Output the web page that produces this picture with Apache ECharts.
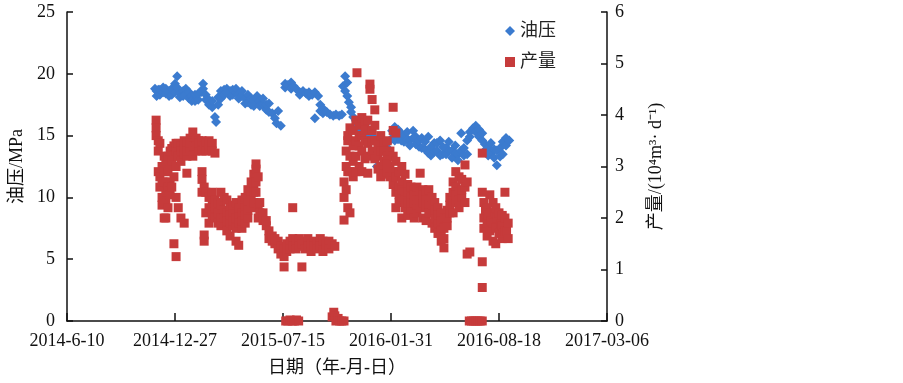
<!DOCTYPE html>
<html>
<head>
<meta charset="utf-8">
<script src="https://cdn.jsdelivr.net/npm/echarts@6/dist/echarts.min.js"></script>
<style>
  html, body { margin: 0; padding: 0; background: #fff; }
  #chart { width: 903px; height: 383px; }
</style>
</head>
<body>
<div id="chart"></div>
<script>
// x values are days counted from startDate (2014-06-10)
const startDate = '2014-06-10';
const xTickLabels = ['2014-6-10', '2014-12-27', '2015-07-15', '2016-01-31', '2016-08-18', '2017-03-06'];
const pressureTicks = [0, 5, 10, 15, 20, 25];
const rateTicks = [0, 1, 2, 3, 4, 5, 6];

// 油压 (MPa)
const pressure = [
  [163,18.8],[166,18.6],[166,18.2],[169,18.7],[172,18.3],[172,18.7],[178,18.5],[178,18.9],[183,18.4],[183,18.8],
  [189,18.6],[189,18.2],[194,18.3],[194,18.8],[200,18.5],[200,19.2],[204,19.8],[204,18.9],[209,18.4],[209,18.1],
  [215,18.6],[215,18.2],[220,18.8],[220,18.3],[226,18.0],[226,18.5],[231,18.2],[231,17.8],[237,17.8],[237,18.3],
  [243,17.9],[243,18.4],[248,18.5],[252,19.2],[252,18.8],[257,18.3],[257,17.9],[263,17.9],[263,17.5],
  [269,17.3],[269,17.8],[274,16.5],[276,16.1],[280,17.5],[280,18.1],[285,18.0],[285,18.6],[291,18.7],[291,18.3],
  [296,18.5],[296,18.8],[302,18.6],[302,18.2],[307,18.3],[307,18.7],[313,18.5],[313,18.8],[318,18.4],[318,18.0],
  [324,18.6],[324,18.2],[330,18.0],[330,17.6],[335,17.7],[335,18.3],[341,17.5],[341,18.0],[346,17.9],[346,17.4],
  [352,18.2],[352,17.8],[357,17.8],[357,17.4],[363,17.5],[363,18.0],[369,17.1],[369,17.5],[374,17.6],
  [374,16.9],[380,16.8],[385,16.4],[388,16.0],[391,17.0],[396,15.8],[404,18.9],[404,19.2],[409,19.1],[415,19.3],
  [415,18.8],[420,19.0],[426,18.7],[431,18.5],[431,18.3],[437,18.6],[443,18.4],[448,18.5],[448,18.2],[454,18.3],
  [459,16.4],[459,18.5],[465,18.2],[469,17.5],[469,17.0],[474,17.2],[474,16.8],[481,16.9],[487,16.7],[493,16.6],
  [498,16.7],[504,16.6],[509,16.7],[511,19.0],[515,19.8],[515,18.6],[519,18.2],[519,19.3],[522,17.7],[526,17.3],
  [526,16.9],[530,16.5],[535,16.2],[535,15.8],[541,16.0],[541,15.5],[546,15.6],[552,15.3],[552,15.9],[557,14.9],
  [563,15.0],[563,14.6],[569,14.8],[574,12.5],[574,14.4],[580,14.7],[580,14.2],[585,14.4],[585,13.8],[591,14.0],
  [591,13.6],[596,14.5],[596,13.9],[602,15.4],[602,14.8],[607,15.7],[607,15.2],[607,14.6],[613,15.5],[613,14.7],
  [619,15.2],[619,14.6],[624,15.0],[624,14.5],[630,15.3],[630,14.7],[635,14.6],[635,14.2],[641,15.4],[641,14.8],
  [646,14.9],[646,14.3],[652,14.1],[652,14.6],[657,14.8],[657,14.0],[663,14.5],[663,13.9],[669,14.9],[669,13.6],
  [674,14.1],[674,13.4],[680,13.7],[680,14.4],[685,13.8],[685,14.4],[691,14.6],[691,13.4],[696,14.1],[696,13.5],
  [702,14.0],[702,13.5],[707,14.5],[707,13.8],[713,13.8],[713,13.2],[719,14.2],[719,13.6],[724,13.5],[724,13.0],
  [730,13.8],[730,15.2],[735,14.0],[735,13.4],[741,14.6],[741,13.5],[746,15.3],[746,14.9],[752,15.6],[757,15.8],
  [757,15.3],[763,15.5],[763,14.9],[769,14.6],[769,15.2],[774,14.3],[774,13.8],[780,14.0],[780,13.4],[785,13.6],
  [785,14.4],[791,13.2],[791,13.9],[796,13.8],[796,12.6],[802,14.0],[802,13.3],[807,13.5],[807,14.5],[813,14.8],
  [813,14.2],[819,14.6]
];

// 产量 (10^4 m3/d)
const rate = [
  [165,3.9],[165,3.75],[165,3.6],[169,3.5],[169,3.3],[169,2.9],[172,3.45],[172,2.8],[172,2.6],[176,3.0],[176,2.4],
  [176,2.25],[176,2.7],[180,2.9],[180,2.7],[180,2.0],[180,3.2],[183,3.1],[183,2.5],[183,2.3],[183,2.0],
  [187,3.2],[187,2.9],[187,2.6],[187,2.2],[191,3.3],[191,2.7],[191,2.45],[191,3.0],[194,3.35],[194,3.1],[194,2.6],
  [198,3.4],[198,2.8],[198,1.5],[198,3.2],[202,3.3],[202,3.0],[202,2.4],[202,1.25],[202,3.45],
  [206,3.45],[206,3.2],[206,2.2],[211,3.4],[211,3.1],[211,2.0],[211,3.3],[217,3.5],[217,3.25],[217,1.9],[217,3.35],
  [222,3.45],[222,3.2],[222,2.87],[222,3.3],[228,3.55],[228,3.35],[228,3.45],[233,3.67],[233,3.4],[233,3.2],
  [239,3.55],[239,3.3],[239,3.4],[244,3.5],[244,3.35],[244,3.45],
  [250,3.5],[250,3.3],[250,2.9],[250,2.75],[250,2.5],[254,3.4],[254,2.6],[254,1.67],[254,1.55],[257,3.45],[257,3.3],
  [257,2.5],[257,2.1],[263,3.5],[263,3.35],[263,2.4],[263,2.2],[263,1.9],[269,3.45],[269,3.3],[269,2.3],[269,2.5],
  [269,2.05],[274,3.26],[274,2.2],[274,2.35],[274,2.0],[280,2.1],[280,2.3],[280,1.9],[285,2.0],[285,2.25],[285,2.5],
  [285,1.85],[291,1.9],[291,2.15],[291,2.4],[291,2.0],[296,1.75],[296,2.1],[296,2.35],[296,1.95],
  [302,1.65],[302,1.9],[302,2.2],[302,2.05],[307,1.85],[307,2.1],[307,2.25],[307,1.95],[313,2.0],[313,1.55],
  [313,2.3],[313,1.8],[318,1.47],[318,2.05],[318,2.2],[318,1.9],[324,1.8],[324,2.1],[324,2.35],[324,1.95],
  [330,1.9],[330,2.2],[330,2.4],[330,2.05],[335,2.0],[335,2.3],[335,2.55],[335,2.15],[341,2.2],[341,2.5],[341,2.7],
  [341,2.35],[346,2.3],[346,2.65],[346,2.85],[346,2.5],[350,2.5],[350,2.95],[350,3.05],[350,2.7],[354,2.8],
  [354,2.2],[354,2.0],[357,2.3],[357,2.1],[363,2.1],[363,1.95],[369,1.85],[369,1.95],[374,1.75],[374,1.6],
  [380,1.65],[380,1.55],[385,1.5],[385,1.6],[391,1.55],[391,1.4],[396,1.45],[396,1.3],[402,1.4],[402,1.25],
  [402,1.05],[407,1.5],[407,1.35],[413,1.55],[413,1.4],[418,2.2],[418,1.6],[418,1.45],[424,1.55],[424,1.4],
  [430,1.6],[430,1.45],[435,1.5],[435,1.05],[441,1.55],[441,1.4],[446,1.6],[446,1.45],[452,1.5],[452,1.35],
  [457,1.55],[457,1.45],[463,1.5],[463,1.4],[469,1.6],[469,1.45],[474,1.55],[474,1.35],[480,1.5],[480,1.42],
  [485,1.55],[485,1.4],[491,1.5],[496,1.45],
  [405,0.0],[409,0.0],[413,0.02],[417,0.0],[421,0.0],[425,0.02],[429,0.0],
  [491,0.08],[494,0.17],[496,0.1],[498,0.0],[502,0.05],[505,0.0],[509,0.0],[513,0.0],
  [513,2.7],[513,2.4],[513,1.96],[517,2.55],[517,3.0],[517,3.3],[520,2.2],[520,3.5],[520,3.6],[520,2.9],
  [524,3.75],[524,3.2],[524,2.1],[524,2.9],[530,3.7],[530,3.4],[530,3.1],[530,2.8],[535,3.9],[535,3.5],[535,3.2],
  [535,2.9],[537,4.82],[541,3.8],[541,3.4],[541,3.0],[541,3.6],[546,3.95],[546,3.6],[546,3.3],[546,2.9],
  [552,3.85],[552,3.5],[552,3.15],[552,3.7],[557,3.9],[557,3.45],[557,2.87],[557,3.2],[561,4.6],[561,4.5],
  [565,4.3],[565,3.7],[565,3.3],[565,3.5],[570,4.1],[570,3.8],[570,3.5],[570,3.15],[576,3.5],[576,3.2],[576,2.95],
  [576,3.35],[581,3.6],[581,3.3],[581,3.0],[581,2.8],[587,3.45],[587,3.1],[587,2.85],[587,3.3],[593,3.5],[593,3.2],
  [593,2.9],[593,3.05],[598,3.3],[598,3.0],[598,2.8],[604,4.15],[604,3.7],[604,3.2],[604,2.65],[604,2.9],
  [609,3.65],[609,3.1],[609,2.5],[609,2.2],[609,2.8],[615,2.9],[615,2.6],[615,2.3],[615,2.45],
  [620,3.0],[620,2.7],[620,2.4],[620,2.0],[620,2.55],[626,2.85],[626,2.5],[626,2.2],[626,2.35],
  [631,2.65],[631,2.3],[631,2.05],[631,2.5],[637,2.6],[637,2.4],[637,2.15],[637,2.3],[643,2.55],[643,2.3],
  [643,2.0],[643,2.45],[648,2.6],[648,2.35],[648,2.1],[648,2.25],[654,2.87],[654,2.5],[654,2.2],[654,2.35],
  [659,2.55],[659,2.3],[659,2.0],[659,2.45],[665,2.5],[665,2.2],[665,1.95],[665,2.35],[670,2.55],[670,2.25],
  [670,2.1],[676,2.4],[676,2.1],[676,1.9],[676,2.25],[681,2.3],[681,2.0],[681,1.8],[681,2.15],
  [687,2.2],[687,1.9],[687,1.7],[687,2.05],[693,2.1],[693,1.75],[693,1.55],[693,1.95],[698,2.0],[698,1.6],
  [698,1.42],[698,1.8],[704,2.15],[704,1.85],[704,2.0],[709,2.4],[709,2.1],[709,2.25],
  [715,2.7],[715,2.35],[715,2.1],[715,2.5],[720,2.6],[720,2.9],[720,2.3],[720,2.45],[726,2.8],[726,2.5],[726,2.2],
  [726,2.35],[731,2.75],[731,2.4],[731,2.55],[737,3.03],[737,2.6],[737,2.3],[741,2.7],[741,1.3],[746,1.34],
  [745,0.0],[749,0.0],[753,0.0],[757,0.0],[761,0.0],[765,0.0],[769,0.0],
  [769,3.26],[769,1.15],[769,0.65],[769,2.5],
  [772,2.3],[772,2.0],[772,1.8],[775,2.15],[778,2.2],[778,1.9],[778,1.65],[780,2.05],[783,2.45],[783,2.1],[783,1.75],
  [786,1.95],[789,2.3],[789,1.9],[789,1.55],[792,2.1],[794,2.2],[794,1.8],[794,1.5],[797,2.0],[800,2.1],[800,1.7],
  [803,1.9],[806,2.05],[806,1.85],[806,1.6],[808,1.7],[811,2.5],[811,2.0],[811,1.75],[814,1.75],[817,1.9],[817,1.6]
];

const serif = "'Liberation Serif', 'Noto Sans CJK SC', serif";
const blue = '#3b7bcf';
const red = '#c63b3b';

const chart = echarts.init(document.getElementById('chart'));
chart.setOption({
  animation: false,
  textStyle: { fontFamily: serif, color: '#111' },
  grid: { left: 67, right: 296, top: 12, bottom: 62 },
  legend: {
    orient: 'vertical',
    left: 500,
    top: 17,
    itemGap: 13,
    itemWidth: 10,
    itemHeight: 10,
    textStyle: { fontFamily: serif, fontSize: 18, color: '#222' },
    data: [
      { name: '油压', icon: 'diamond' },
      { name: '产量', icon: 'rect' }
    ]
  },
  xAxis: {
    type: 'value',
    min: 0,
    max: 1000,
    interval: 200,
    name: '日期（年-月-日）',
    nameLocation: 'middle',
    nameGap: 38,
    nameTextStyle: { fontFamily: serif, fontSize: 18, color: '#111' },
    axisLine: { lineStyle: { color: '#111', width: 1.5 } },
    axisTick: { inside: true, length: 8, lineStyle: { color: '#111', width: 1.5 } },
    axisLabel: {
      fontFamily: serif, fontSize: 18, color: '#111', margin: 11,
      formatter: v => xTickLabels[Math.round(v / 200)]
    },
    splitLine: { show: false }
  },
  yAxis: [{
    type: 'value',
    min: pressureTicks[0],
    max: pressureTicks[pressureTicks.length - 1],
    interval: 5,
    name: '油压/MPa',
    nameLocation: 'middle',
    nameGap: 38,
    nameRotate: 90,
    nameTextStyle: { fontFamily: serif, fontSize: 18, color: '#111' },
    axisLine: { show: true, lineStyle: { color: '#111', width: 1.5 } },
    axisTick: { show: true, inside: true, length: 6, lineStyle: { color: '#111', width: 1.5 } },
    axisLabel: { fontFamily: serif, fontSize: 18, color: '#111', margin: 12 },
    splitLine: { show: false }
  }, {
    type: 'value',
    position: 'right',
    min: rateTicks[0],
    max: rateTicks[rateTicks.length - 1],
    interval: 1,
    name: '产量/(10⁴m³· d⁻¹)',
    nameLocation: 'middle',
    nameGap: 40,
    nameRotate: 90,
    nameTextStyle: { fontFamily: serif, fontSize: 18, color: '#111' },
    axisLine: { show: true, lineStyle: { color: '#111', width: 1.5 } },
    axisTick: { show: true, inside: true, length: 6, lineStyle: { color: '#111', width: 1.5 } },
    axisLabel: { fontFamily: serif, fontSize: 18, color: '#111', margin: 8 },
    splitLine: { show: false }
  }],
  series: [{
    name: '油压',
    type: 'scatter',
    yAxisIndex: 0,
    symbol: 'diamond',
    symbolSize: 10,
    itemStyle: { color: blue, opacity: 1 },
    data: pressure
  }, {
    name: '产量',
    type: 'scatter',
    yAxisIndex: 1,
    symbol: 'rect',
    symbolSize: 9,
    itemStyle: { color: red, opacity: 1 },
    data: rate
  }]
});
</script>
</body>
</html>
